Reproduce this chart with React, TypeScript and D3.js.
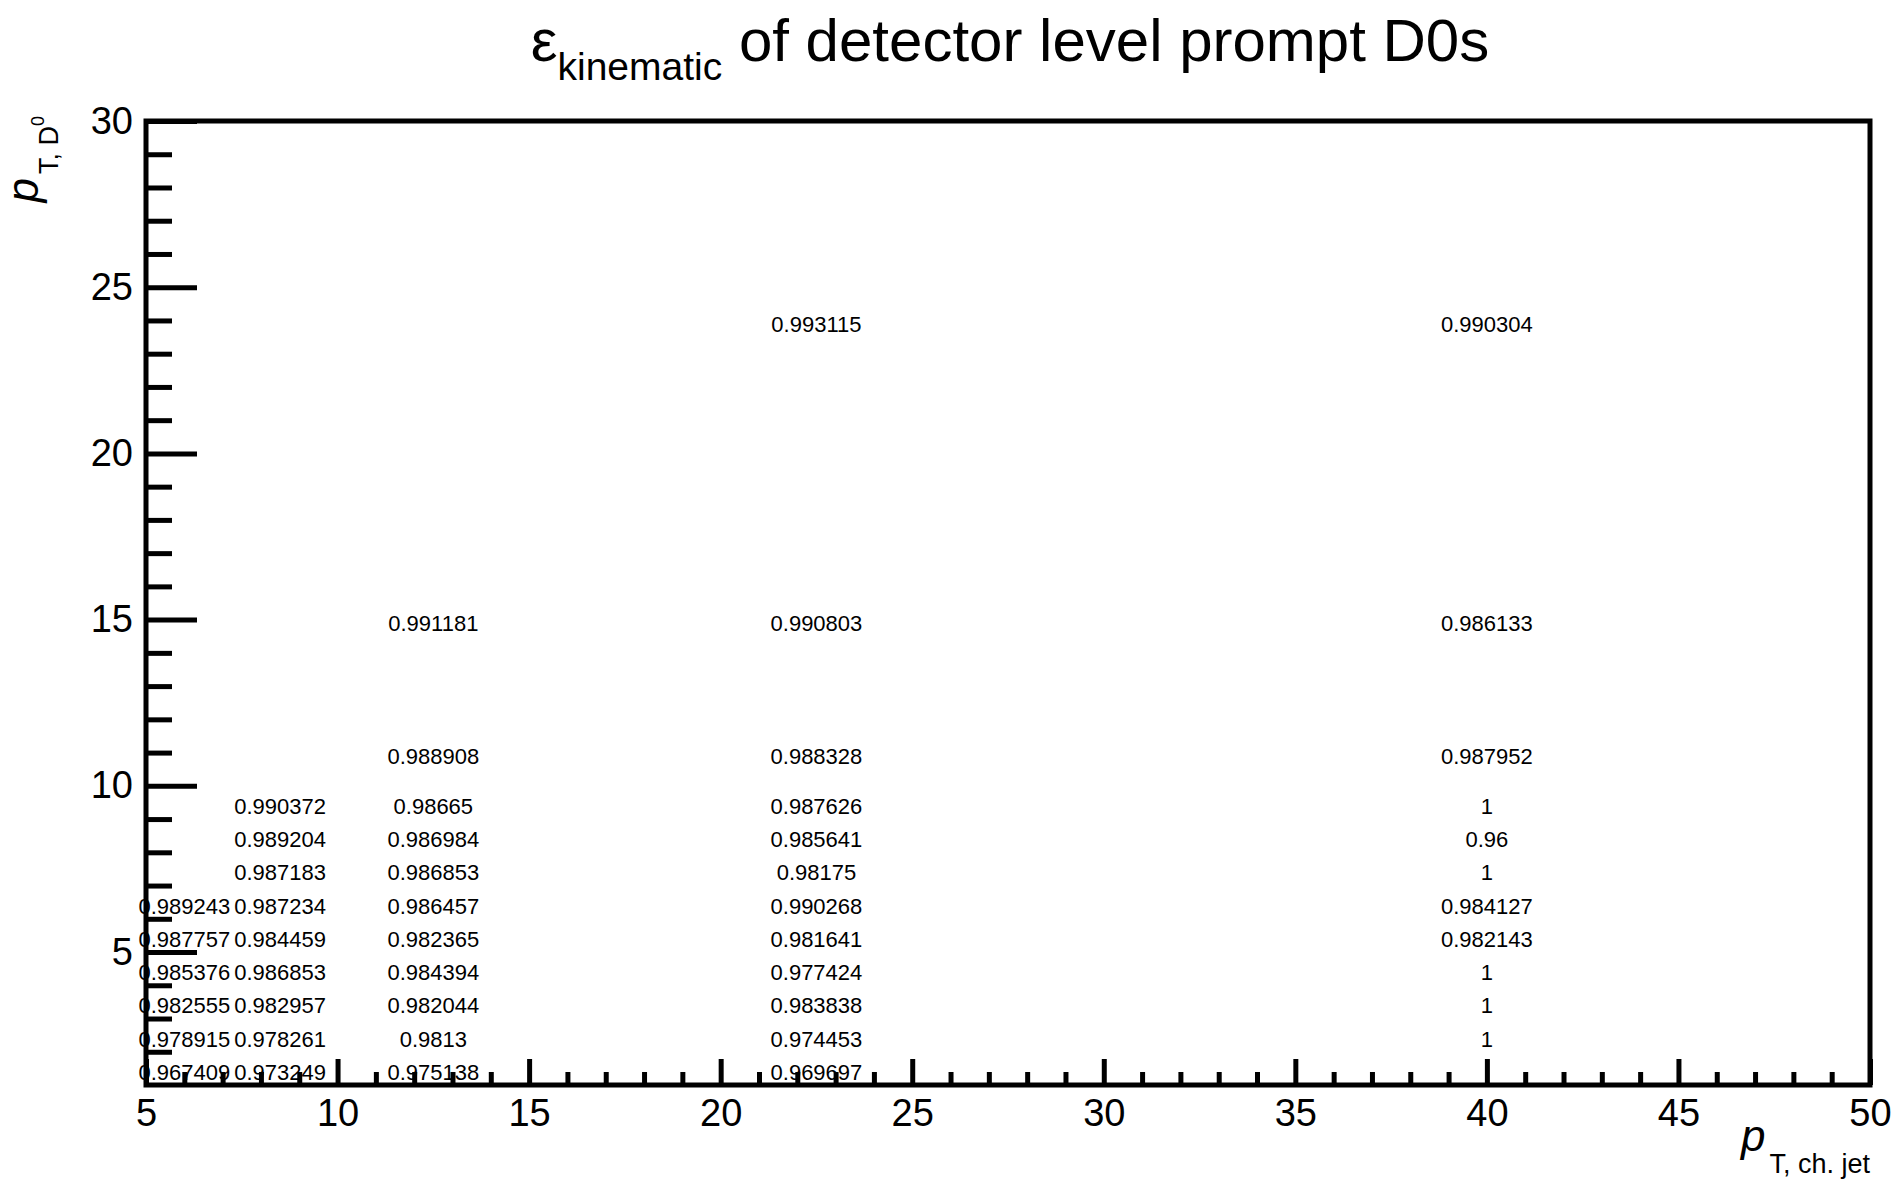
import * as d3 from 'd3';
import { useEffect, useRef } from 'react';

// bin edges of the 2D efficiency histogram
const jetPtEdges = [5, 7, 10, 15, 30, 50];
const dPtEdges = [1, 2, 3, 4, 5, 6, 7, 8, 9, 10, 12, 18, 30];

// efficiency per D0 pT bin (bottom to top), one array per jet pT bin; null = empty bin
const effJet5to7 = [0.967409, 0.978915, 0.982555, 0.985376, 0.987757, 0.989243, null, null, null, null, null, null];
const effJet7to10 = [0.973249, 0.978261, 0.982957, 0.986853, 0.984459, 0.987234, 0.987183, 0.989204, 0.990372, null, null, null];
const effJet10to15 = [0.975138, 0.9813, 0.982044, 0.984394, 0.982365, 0.986457, 0.986853, 0.986984, 0.98665, 0.988908, 0.991181, null];
const effJet15to30 = [0.969697, 0.974453, 0.983838, 0.977424, 0.981641, 0.990268, 0.98175, 0.985641, 0.987626, 0.988328, 0.990803, 0.993115];
const effJet30to50 = [null, 1, 1, 1, 0.982143, 0.984127, 1, 0.96, 1, 0.987952, 0.986133, 0.990304];
const effColumns = [effJet5to7, effJet7to10, effJet10to15, effJet15to30, effJet30to50];

const xMajorTicks = [5, 10, 15, 20, 25, 30, 35, 40, 45, 50];
const yMajorTicks = [5, 10, 15, 20, 25, 30];

const W = 1897;
const H = 1179;
const frame = { left: 146, right: 1870, top: 121, bottom: 1085 };
const FONT = '"Liberation Sans", Arial, Helvetica, sans-serif';

const EffMap = () => {
  const ref = useRef<SVGSVGElement>(null);

  useEffect(() => {
    const svg = d3.select(ref.current);
    svg.selectAll('*').remove();
    svg.attr('width', W).attr('height', H);

    svg.append('rect').attr('width', W).attr('height', H).attr('fill', '#fff');

    const x = d3.scaleLinear().domain([5, 50]).range([frame.left, frame.right]);
    const y = d3.scaleLinear().domain([1, 30]).range([frame.bottom, frame.top]);

    // bin contents as text (empty bins skipped)
    const cells: { xc: number; yc: number; v: number }[] = [];
    effColumns.forEach((col, i) => {
      col.forEach((v, j) => {
        if (v == null) return;
        cells.push({
          xc: (jetPtEdges[i] + jetPtEdges[i + 1]) / 2,
          yc: (dPtEdges[j] + dPtEdges[j + 1]) / 2,
          v,
        });
      });
    });

    svg.append('g')
      .selectAll('text')
      .data(cells)
      .enter()
      .append('text')
      .attr('x', d => x(d.xc))
      .attr('y', d => y(d.yc))
      .attr('dy', '0.52em')
      .attr('text-anchor', 'middle')
      .attr('font-family', FONT)
      .attr('font-size', 22)
      .attr('fill', '#000')
      .text(d => String(+d.v.toPrecision(6)));

    // axes: ticks point inward, no ticks on top/right
    const styleAxis = (g: any, fontSize: number) => {
      g.select('.domain').remove();
      g.attr('font-family', FONT).attr('font-size', fontSize);
      g.selectAll('line').attr('stroke', '#000').attr('stroke-width', 5);
      g.selectAll('text').attr('fill', '#000');
    };

    const xMinor = d3.range(6, 50).filter(v => v % 5 !== 0);
    const yMinor = d3.range(2, 30).filter(v => v % 5 !== 0);

    svg.append('g')
      .attr('transform', `translate(0,${frame.bottom})`)
      .call(d3.axisBottom(x).tickValues(xMinor).tickSize(-13).tickFormat(() => ''))
      .call(g => styleAxis(g, 38));

    svg.append('g')
      .attr('transform', `translate(0,${frame.bottom})`)
      .call(d3.axisBottom(x).tickValues(xMajorTicks).tickSize(-26).tickPadding(14).tickFormat(d3.format('d')))
      .call(g => styleAxis(g, 38));

    svg.append('g')
      .attr('transform', `translate(${frame.left},0)`)
      .call(d3.axisLeft(y).tickValues(yMinor).tickSize(-26).tickFormat(() => ''))
      .call(g => styleAxis(g, 38));

    svg.append('g')
      .attr('transform', `translate(${frame.left},0)`)
      .call(d3.axisLeft(y).tickValues(yMajorTicks).tickSize(-51).tickPadding(13).tickFormat(d3.format('d')))
      .call(g => styleAxis(g, 38));

    // frame
    svg.append('rect')
      .attr('x', frame.left)
      .attr('y', frame.top)
      .attr('width', frame.right - frame.left)
      .attr('height', frame.bottom - frame.top)
      .attr('fill', 'none')
      .attr('stroke', '#000')
      .attr('stroke-width', 5);

    // title
    const title = svg.append('text')
      .attr('x', (frame.left + frame.right) / 2 + 2)
      .attr('y', 61)
      .attr('text-anchor', 'middle')
      .attr('font-family', FONT)
      .attr('font-size', 60)
      .attr('fill', '#000');
    title.append('tspan').text('ε');
    title.append('tspan').attr('font-size', 39).attr('dy', 19).text('kinematic');
    title.append('tspan').attr('dy', -19).text(' of detector level prompt D0s');

    // x axis title
    const xTitle = svg.append('text')
      .attr('x', frame.right)
      .attr('y', 1151)
      .attr('text-anchor', 'end')
      .attr('font-family', FONT)
      .attr('fill', '#000');
    xTitle.append('tspan').attr('font-size', 44).attr('font-style', 'italic').text('p');
    xTitle.append('tspan').attr('font-size', 27).attr('dx', 4).attr('dy', 22).text('T, ch. jet');

    // y axis title
    const yTitle = svg.append('text')
      .attr('transform', `translate(38,${frame.top - 5}) rotate(-90)`)
      .attr('text-anchor', 'end')
      .attr('font-family', FONT)
      .attr('fill', '#000');
    yTitle.append('tspan').attr('font-size', 44).attr('font-style', 'italic').text('p');
    yTitle.append('tspan').attr('font-size', 27).attr('dx', 4).attr('dy', 20).text('T, D');
    yTitle.append('tspan').attr('font-size', 18).attr('dy', -14).text('0');
  }, []);

  return <svg ref={ref} style={{ position: 'absolute', left: 0, top: 0 }} />;
};

export default function App() {
  return <EffMap />;
}
